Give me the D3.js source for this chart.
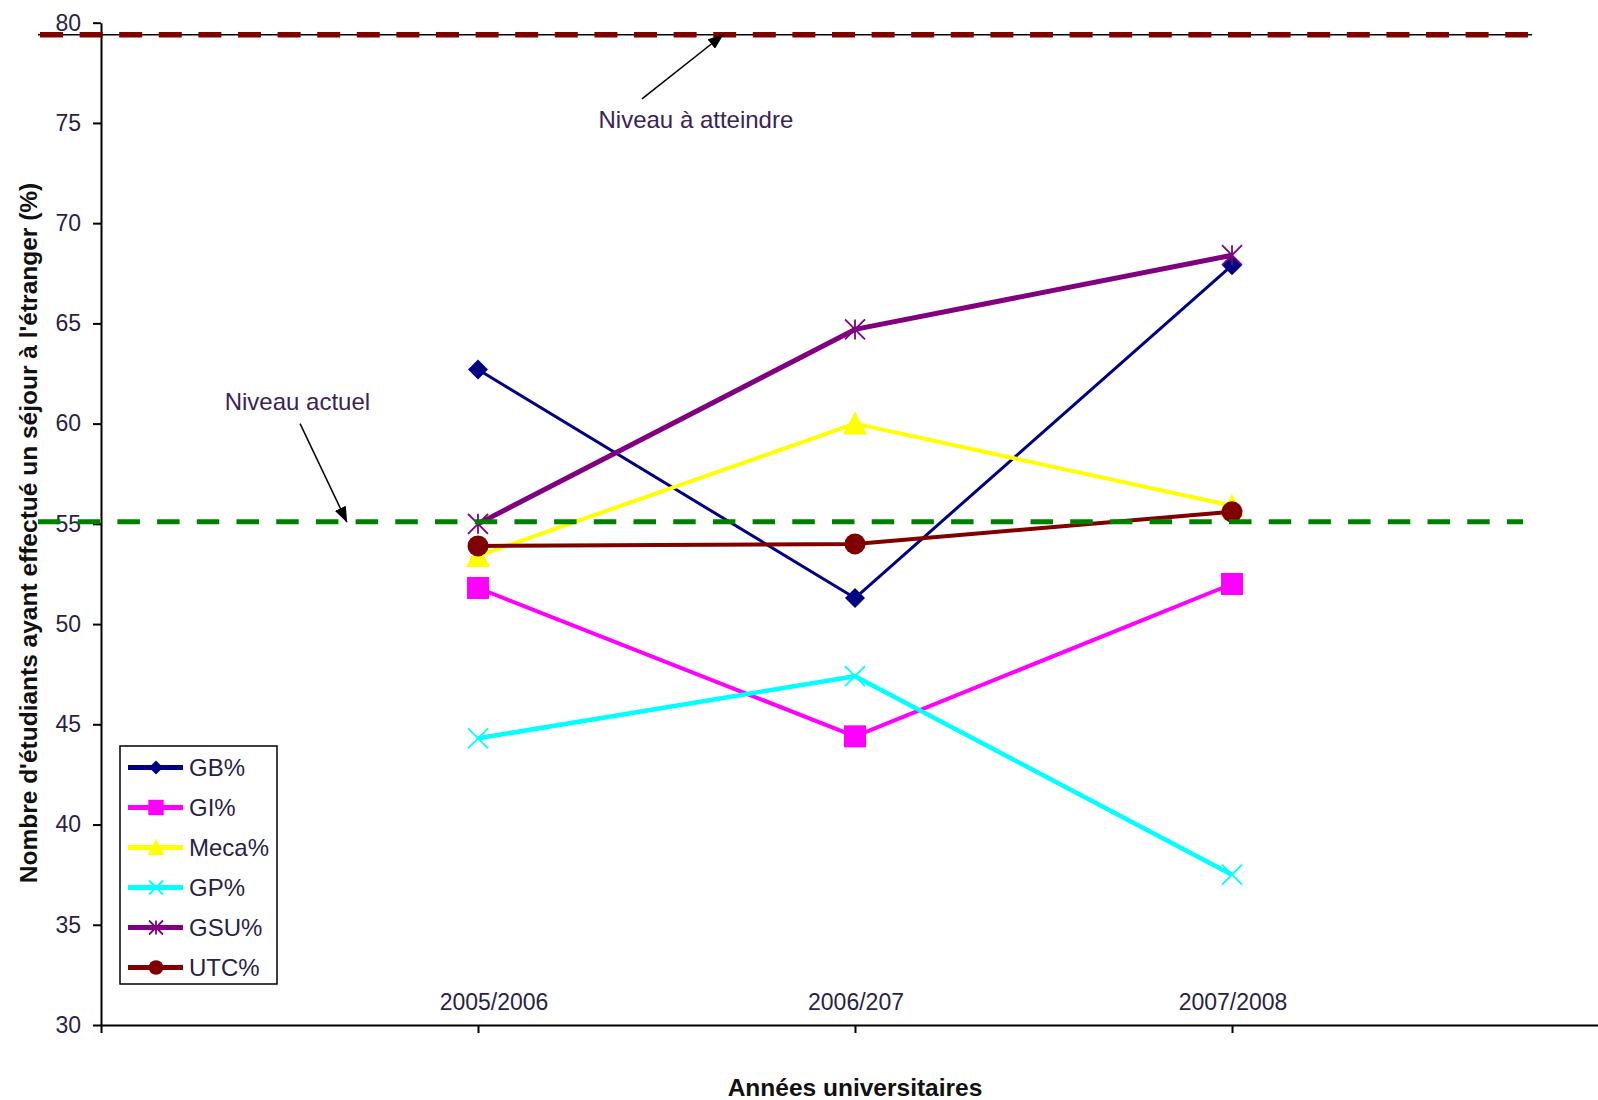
<!DOCTYPE html>
<html>
<head>
<meta charset="utf-8">
<script src="https://cdn.jsdelivr.net/npm/d3@7"></script>
<style>
  body { margin: 0; background: #fff; }
  svg { display: block; }
  text { font-family: "Liberation Sans", Arial, sans-serif; }
</style>
</head>
<body>
<svg id="chart" width="1598" height="1100"></svg>
<script>

// ---- data ----
var years = ["2005/2006", "2006/207", "2007/2008"];
var seriesNames = ["GB%", "GI%", "Meca%", "GP%", "GSU%", "UTC%"];
var gbValues   = [62.7, 51.3, 67.9];
var giValues   = [51.8, 44.4, 52.0];
var mecaValues = [53.4, 60.0, 55.9];
var gpValues   = [44.3, 47.4, 37.5];
var gsuValues  = [55.0, 64.7, 68.4];
var utcValues  = [53.9, 54.0, 55.6];
var yTicks = [30, 35, 40, 45, 50, 55, 60, 65, 70, 75, 80];
var targetLevel = 79.4;   // Niveau à atteindre
var currentLevel = 55.1;  // Niveau actuel

// ---- styles ----
var seriesColors  = ["#000080", "#FF00FF", "#FFFF00", "#00FFFF", "#800080", "#800000"];
var seriesMarkers = ["diamond", "square", "triangle", "cross", "star", "circle"];
var seriesWidths  = [3, 4, 4, 4.5, 5, 4];

var allValues = [gbValues, giValues, mecaValues, gpValues, gsuValues, utcValues];
var series = seriesNames.map(function(name, i) {
    return {name: name, values: allValues[i], color: seriesColors[i],
            marker: seriesMarkers[i], width: seriesWidths[i]};
});

var svg = d3.select("#chart");

var x = d3.scaleLinear().domain([0, 4]).range([101, 1609]);
var y = d3.scaleLinear().domain([30, 80]).range([1025, 22.7]);

var textColor = "#2a1f44";

// ---- axes ----
var yAxis = d3.axisLeft(y).tickValues(yTicks).tickSize(8).tickSizeOuter(0).tickPadding(12);
var gy = svg.append("g").attr("transform", "translate(" + x(0) + ",0)").call(yAxis);
gy.select(".domain").attr("stroke", "#000").attr("stroke-width", 2);
gy.selectAll(".tick line").attr("stroke", "#000").attr("stroke-width", 2);
gy.selectAll(".tick text")
    .style("font-size", "23px")
    .attr("fill", textColor)
    .attr("font-family", null);

var xAxis = d3.axisBottom(x).tickValues([0, 1, 2, 3]).tickSize(8).tickSizeOuter(0).tickFormat("");
var gx = svg.append("g").attr("transform", "translate(0," + y(30) + ")").call(xAxis);
gx.select(".domain").attr("stroke", "#000").attr("stroke-width", 2);
gx.selectAll(".tick line").attr("stroke", "#000").attr("stroke-width", 2);

// category labels sit above the axis line
svg.append("g").selectAll("text")
    .data(years)
    .enter().append("text")
    .attr("x", function(d, i) { return x(i + 1) + (i == 0 ? 16 : 1); })
    .attr("y", y(30) - 15)
    .attr("text-anchor", "middle")
    .style("font-size", "23px")
    .attr("fill", textColor)
    .text(function(d) { return d; });

// axis titles
svg.append("text")
    .attr("transform", "translate(37,533) rotate(-90)")
    .attr("text-anchor", "middle")
    .style("font-size", "24.5px")
    .style("font-weight", "bold")
    .attr("fill", "#111")
    .text("Nombre d'étudiants ayant effectué un séjour à l'étranger (%)");

svg.append("text")
    .attr("x", x(2))
    .attr("y", 1096)
    .attr("text-anchor", "middle")
    .style("font-size", "24.5px")
    .style("font-weight", "bold")
    .attr("fill", "#111")
    .text("Années universitaires");

// ---- marker shapes ----
function drawMarker(g, type, color, s) {
    if (type == "diamond") {
        g.append("path").attr("d", "M0," + (-s) + "L" + s + ",0L0," + s + "L" + (-s) + ",0Z").attr("fill", color);
    } else if (type == "square") {
        g.append("rect").attr("x", -s * 1.1).attr("y", -s * 1.1).attr("width", s * 2.2).attr("height", s * 2.2).attr("fill", color);
    } else if (type == "triangle") {
        g.append("path").attr("d", "M0," + (-s * 1.2) + "L" + (s * 1.2) + "," + (s * 1.1) + "L" + (-s * 1.2) + "," + (s * 1.1) + "Z").attr("fill", color);
    } else if (type == "cross") {
        g.append("path").attr("d", "M" + (-s) + "," + (-s) + "L" + s + "," + s + "M" + (-s) + "," + s + "L" + s + "," + (-s))
            .attr("stroke", color).attr("stroke-width", 1.8).attr("fill", "none");
    } else if (type == "star") {
        g.append("path").attr("d", "M" + (-s) + "," + (-s) + "L" + s + "," + s + "M" + (-s) + "," + s + "L" + s + "," + (-s) +
                "M0," + (-s) + "L0," + s)
            .attr("stroke", color).attr("stroke-width", 1.8).attr("fill", "none");
    } else {
        g.append("circle").attr("r", s * 1.05).attr("fill", color);
    }
}

// ---- series ----
var line = d3.line()
    .x(function(d, i) { return x(i + 1); })
    .y(function(d) { return y(d); });

series.forEach(function(sr) {
    var g = svg.append("g").attr("class", "series");
    g.append("path")
        .attr("d", line(sr.values))
        .attr("fill", "none")
        .attr("stroke", sr.color)
        .attr("stroke-width", sr.width)
        .attr("stroke-linejoin", "round");
    sr.values.forEach(function(v, i) {
        var m = g.append("g").attr("transform", "translate(" + x(i + 1) + "," + y(v) + ")");
        drawMarker(m, sr.marker, sr.color, 10);
    });
});

// ---- reference levels ----
svg.append("line")
    .attr("x1", 38).attr("x2", 1532)
    .attr("y1", y(targetLevel)).attr("y2", y(targetLevel))
    .attr("stroke", "#000").attr("stroke-width", 1.5);
svg.append("line")
    .attr("x1", 40).attr("x2", 1528)
    .attr("y1", y(targetLevel)).attr("y2", y(targetLevel))
    .attr("stroke", "#800000").attr("stroke-width", 5.5)
    .attr("stroke-dasharray", "23,16.6");
svg.append("line")
    .attr("x1", 38).attr("x2", 1523)
    .attr("y1", y(currentLevel)).attr("y2", y(currentLevel))
    .attr("stroke", "#008000").attr("stroke-width", 5)
    .attr("stroke-dasharray", "22.5,17.2");

// ---- annotations ----
svg.append("defs").append("marker")
    .attr("id", "arrowhead")
    .attr("markerUnits", "userSpaceOnUse")
    .attr("viewBox", "0 0 16 12")
    .attr("markerWidth", 16).attr("markerHeight", 12)
    .attr("refX", 15).attr("refY", 6)
    .attr("orient", "auto")
    .append("path").attr("d", "M0,0L16,6L0,12Z").attr("fill", "#000");

svg.append("line")
    .attr("x1", x(1.435)).attr("y1", y(76.2))
    .attr("x2", x(1.65)).attr("y2", y(targetLevel))
    .attr("stroke", "#000").attr("stroke-width", 1.5)
    .attr("marker-end", "url(#arrowhead)");
svg.append("text")
    .attr("x", x(1.578)).attr("y", y(75.15))
    .attr("text-anchor", "middle").attr("dy", "0.35em")
    .style("font-size", "24px").attr("fill", "#3a2456")
    .text("Niveau à atteindre");

svg.append("line")
    .attr("x1", x(0.528)).attr("y1", y(60.0))
    .attr("x2", x(0.652)).attr("y2", y(currentLevel))
    .attr("stroke", "#000").attr("stroke-width", 1.5)
    .attr("marker-end", "url(#arrowhead)");
svg.append("text")
    .attr("x", x(0.521)).attr("y", y(61.1))
    .attr("text-anchor", "middle").attr("dy", "0.35em")
    .style("font-size", "24px").attr("fill", "#3a2456")
    .text("Niveau actuel");

// ---- legend ----
var legend = svg.append("g").attr("transform", "translate(120,746)");
legend.append("rect")
    .attr("width", 157).attr("height", 238)
    .attr("fill", "#fff").attr("stroke", "#000").attr("stroke-width", 1.5);

var item = legend.selectAll("g.item")
    .data(series)
    .enter().append("g")
    .attr("class", "item")
    .attr("transform", function(d, i) { return "translate(0," + (21.5 + i * 40) + ")"; });

item.append("line")
    .attr("x1", 8).attr("x2", 63)
    .attr("stroke", function(d) { return d.color; })
    .attr("stroke-width", 5);
item.each(function(d) {
    var m = d3.select(this).append("g").attr("transform", "translate(36,0)");
    drawMarker(m, d.marker, d.color, 7);
});
item.append("text")
    .attr("x", 69)
    .attr("dy", "0.35em")
    .style("font-size", "24px")
    .attr("fill", textColor)
    .text(function(d) { return d.name; });

</script>
</body>
</html>
